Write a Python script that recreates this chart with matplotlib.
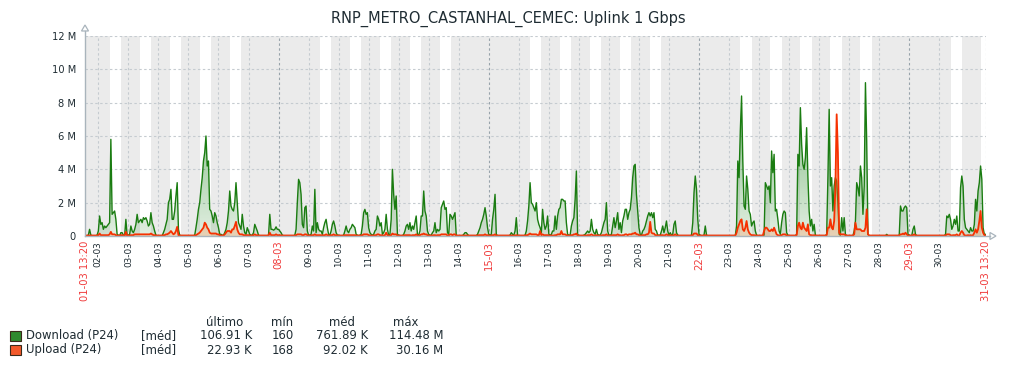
import numpy as np
import matplotlib.pyplot as plt
from matplotlib.patches import Polygon, Rectangle
from matplotlib.lines import Line2D
from matplotlib.colors import to_rgb

TITLE = "RNP_METRO_CASTANHAL_CEMEC: Uplink 1 Gbps"

# hours counted from 01-03 00:00, graph spans 30 days from 01-03 13:20
START_H = 13 + 20 / 60
END_H = START_H + 30 * 24
FIRST_SAMPLE_H = 13

DAYS = list(range(2, 31))
RED_DAYS = [8, 15, 22, 29]
Y_TICKS = [0, 2, 4, 6, 8, 10, 12]
Y_LABELS = ["0", "2 M", "4 M", "6 M", "8 M", "10 M", "12 M"]

LEGEND_HEAD = ["último", "mín", "méd", "máx"]
LEGEND_NAMES = ["Download (P24)", "Upload (P24)"]
LEGEND_FUNC = "[méd]"
LEGEND_VALUES = [["106.91 K", "160", "761.89 K", "114.48 M"],
                 ["22.93 K", "168", "92.02 K", "30.16 M"]]

# hourly averages in Mbps, one row per day (day 1 from 13h, day 31 up to 13h)
download_m = [
    [0.02, 0.02, 0.02, 0.05, 0.4, 0.05, 0.02, 0.02, 0.02, 0.02, 0.05],
    [0.3, 1.2, 0.7, 0.8, 0.4, 0.6, 0.5, 0.6, 0.7, 0.8, 5.8, 1.3, 1.4, 1.5, 1.0, 0.1, 0.05, 0.02, 0.2, 0.2, 0.05, 0.02, 1.0, 0.05],
    [0.05, 0.1, 0.6, 0.3, 0.2, 0.4, 0.7, 1.3, 0.8, 0.9, 1.0, 0.8, 1.1, 1.0, 1.1, 0.9, 0.6, 0.7, 1.4, 0.8, 0.6, 0.3, 0.05, 0.02],
    [0.02, 0.02, 0.02, 0.02, 0.2, 0.4, 0.7, 1.0, 2.0, 2.2, 2.8, 1.0, 1.0, 1.5, 2.4, 3.2, 0.4, 0.05, 0.02, 0.02, 0.02, 0.02, 0.02, 0.02],
    [0.02, 0.02, 0.02, 0.02, 0.02, 0.05, 0.5, 1.0, 1.6, 2.0, 2.8, 3.5, 4.5, 5.0, 6.0, 4.2, 4.5, 1.6, 1.5, 1.2, 0.8, 1.4, 1.2, 0.8],
    [0.5, 0.1, 0.1, 0.05, 0.05, 0.2, 0.4, 0.8, 1.5, 2.7, 1.8, 1.6, 1.5, 2.0, 3.2, 2.0, 0.8, 0.6, 0.4, 1.3, 0.6, 0.2, 0.1, 0.5],
    [0.3, 0.1, 0.05, 0.05, 0.2, 0.7, 0.5, 0.3, 0.05, 0.02, 0.02, 0.02, 0.02, 0.02, 0.02, 0.02, 0.05, 1.3, 0.4, 0.4, 0.35, 0.4, 0.55, 0.4],
    [0.4, 0.3, 0.2, 0.05, 0.02, 0.02, 0.02, 0.02, 0.02, 0.02, 0.02, 0.02, 0.02, 0.05, 0.4, 2.0, 3.4, 3.2, 2.5, 0.7, 0.5, 1.7, 1.8, 0.3],
    [0.05, 0.05, 0.1, 0.6, 0.3, 2.8, 0.2, 0.8, 0.4, 0.3, 0.3, 0.1, 0.5, 0.8, 1.0, 0.5, 0.1, 0.05, 0.3, 0.7, 0.9, 0.6, 0.2, 0.05],
    [0.05, 0.02, 0.02, 0.02, 0.05, 0.3, 0.6, 0.3, 0.2, 0.4, 0.5, 0.7, 0.6, 0.5, 0.1, 0.05, 0.02, 0.05, 0.1, 0.6, 1.4, 1.6, 1.3, 1.4],
    [0.5, 0.2, 0.1, 0.05, 0.1, 0.3, 0.4, 1.2, 1.0, 0.6, 0.8, 0.1, 0.2, 0.4, 1.3, 0.4, 0.05, 0.1, 1.0, 4.0, 2.5, 1.6, 2.4, 0.1],
    [0.05, 0.02, 0.02, 0.02, 0.1, 0.3, 0.6, 0.7, 0.4, 0.8, 0.3, 0.6, 0.4, 0.8, 1.2, 0.1, 0.05, 0.3, 1.2, 1.2, 2.7, 1.5, 1.2, 0.3],
    [0.1, 0.05, 0.05, 0.2, 0.3, 0.8, 0.2, 0.4, 0.3, 0.4, 1.7, 1.9, 2.1, 1.6, 1.7, 0.2, 0.1, 1.3, 1.2, 1.0, 1.2, 1.4, 0.05, 0.02],
    [0.02, 0.02, 0.02, 0.02, 0.1, 0.2, 0.2, 0.1, 0.02, 0.02, 0.02, 0.02, 0.02, 0.02, 0.02, 0.1, 0.3, 0.5, 0.8, 1.0, 1.3, 1.7, 1.2, 0.5],
    [0.1, 0.05, 0.1, 1.0, 1.6, 2.5, 0.1, 0.02, 0.02, 0.02, 0.02, 0.02, 0.02, 0.02, 0.02, 0.02, 0.02, 0.05, 0.2, 0.1, 0.05, 0.3, 1.1, 0.05],
    [0.02, 0.02, 0.02, 0.02, 0.02, 0.05, 0.3, 0.9, 1.8, 3.2, 2.0, 1.9, 1.7, 1.5, 2.0, 1.0, 0.7, 0.5, 0.2, 1.6, 0.8, 0.4, 0.6, 1.2],
    [0.1, 0.05, 0.1, 0.3, 0.3, 1.2, 0.4, 1.2, 1.6, 1.7, 2.2, 2.2, 2.1, 2.1, 0.8, 0.1, 0.05, 0.05, 0.6, 0.9, 1.1, 2.2, 3.9, 0.1],
    [0.02, 0.02, 0.02, 0.02, 0.05, 0.1, 0.2, 0.3, 0.2, 0.3, 1.0, 0.4, 0.2, 0.1, 0.4, 0.1, 0.05, 0.05, 0.2, 0.5, 0.8, 1.0, 2.0, 0.3],
    [0.05, 0.05, 0.1, 0.6, 1.1, 0.5, 0.9, 1.4, 0.4, 0.8, 0.2, 0.9, 1.2, 1.6, 1.6, 1.0, 1.4, 1.6, 2.3, 3.5, 4.2, 4.3, 2.5, 1.5],
    [0.5, 0.1, 0.05, 0.3, 0.4, 0.6, 0.9, 1.2, 1.4, 1.2, 1.4, 1.1, 1.4, 0.4, 0.3, 0.05, 0.05, 0.05, 0.3, 0.6, 0.2, 0.5, 0.9, 0.3],
    [0.05, 0.2, 0.05, 0.1, 0.7, 0.9, 0.2, 0.05, 0.02, 0.02, 0.02, 0.02, 0.02, 0.02, 0.02, 0.02, 0.02, 0.02, 0.05, 0.8, 2.6, 3.6, 2.8, 1.0],
    [0.1, 0.05, 0.02, 0.02, 0.05, 0.6, 0.05, 0.02, 0.02, 0.02, 0.02, 0.02, 0.02, 0.02, 0.02, 0.02, 0.02, 0.02, 0.02, 0.02, 0.02, 0.02, 0.02, 0.02],
    [0.02, 0.02, 0.02, 0.02, 0.02, 0.02, 0.6, 4.5, 3.5, 6.3, 8.4, 4.5, 1.8, 1.6, 3.6, 2.8, 1.5, 1.3, 0.6, 0.8, 0.9, 0.3, 0.05, 0.02],
    [0.02, 0.02, 0.02, 0.02, 0.05, 3.2, 3.0, 2.8, 3.0, 2.0, 5.1, 3.8, 4.9, 1.5, 1.6, 1.0, 0.3, 0.1, 0.8, 1.3, 1.5, 1.4, 0.2, 0.05],
    [0.02, 0.02, 0.02, 0.02, 0.02, 0.02, 0.1, 4.9, 4.2, 7.7, 5.5, 4.3, 4.0, 4.7, 6.5, 3.6, 1.5, 0.6, 1.0, 0.3, 0.7, 0.05, 0.02, 0.02],
    [0.02, 0.02, 0.02, 0.02, 0.02, 0.02, 0.1, 3.5, 7.6, 3.0, 3.5, 1.5, 3.0, 3.5, 3.3, 2.0, 0.1, 0.05, 1.1, 0.3, 1.1, 0.1, 0.02, 0.02],
    [0.02, 0.02, 0.02, 0.02, 0.3, 0.9, 3.2, 2.9, 2.4, 4.2, 3.5, 1.3, 3.0, 9.2, 5.7, 0.1, 0.02, 0.02, 0.02, 0.02, 0.02, 0.02, 0.02, 0.02],
    [0.02, 0.02, 0.02, 0.02, 0.02, 0.02, 0.1, 0.02, 0.02, 0.02, 0.02, 0.02, 0.02, 0.02, 0.02, 0.02, 0.05, 1.8, 1.5, 1.5, 1.7, 1.8, 1.7, 0.1],
    [0.05, 0.02, 0.02, 0.4, 0.6, 0.1, 0.02, 0.02, 0.02, 0.02, 0.02, 0.02, 0.02, 0.02, 0.02, 0.02, 0.02, 0.02, 0.02, 0.02, 0.02, 0.02, 0.02, 0.02],
    [0.02, 0.02, 0.02, 0.02, 0.02, 0.1, 1.2, 1.1, 1.3, 1.0, 0.4, 0.6, 1.0, 0.7, 1.2, 0.3, 0.3, 2.9, 3.6, 3.0, 1.0, 0.5, 0.4, 0.3],
    [0.2, 0.5, 0.3, 0.3, 0.7, 2.2, 1.5, 2.7, 3.2, 4.2, 3.4, 0.5, 0.1, 0.1],
]

upload_m = [
    [0.03, 0.03, 0.03, 0.03, 0.03, 0.03, 0.03, 0.03, 0.03, 0.03, 0.03],
    [0.05, 0.15, 0.05, 0.05, 0.05, 0.05, 0.05, 0.05, 0.05, 0.1, 0.25, 0.1, 0.1, 0.1, 0.05, 0.03, 0.03, 0.03, 0.05, 0.05, 0.03, 0.03, 0.25, 0.03],
    [0.03, 0.03, 0.05, 0.05, 0.05, 0.1, 0.1, 0.1, 0.1, 0.1, 0.1, 0.1, 0.1, 0.1, 0.1, 0.1, 0.1, 0.1, 0.15, 0.1, 0.05, 0.05, 0.03, 0.03],
    [0.03, 0.03, 0.03, 0.03, 0.05, 0.05, 0.1, 0.1, 0.15, 0.2, 0.3, 0.2, 0.1, 0.15, 0.3, 0.55, 0.05, 0.03, 0.03, 0.03, 0.03, 0.03, 0.03, 0.03],
    [0.03, 0.03, 0.03, 0.03, 0.03, 0.03, 0.05, 0.1, 0.15, 0.2, 0.3, 0.4, 0.5, 0.8, 0.7, 0.5, 0.4, 0.2, 0.15, 0.15, 0.15, 0.15, 0.15, 0.1],
    [0.1, 0.05, 0.03, 0.03, 0.03, 0.1, 0.2, 0.3, 0.3, 0.3, 0.2, 0.4, 0.4, 0.6, 0.85, 0.4, 0.2, 0.1, 0.1, 0.1, 0.05, 0.05, 0.03, 0.05],
    [0.05, 0.03, 0.03, 0.03, 0.05, 0.1, 0.05, 0.05, 0.03, 0.03, 0.03, 0.03, 0.03, 0.03, 0.03, 0.03, 0.03, 0.2, 0.05, 0.05, 0.05, 0.05, 0.1, 0.05],
    [0.05, 0.05, 0.03, 0.03, 0.03, 0.03, 0.03, 0.03, 0.03, 0.03, 0.03, 0.03, 0.03, 0.03, 0.05, 0.1, 0.1, 0.1, 0.1, 0.05, 0.05, 0.1, 0.1, 0.05],
    [0.03, 0.03, 0.03, 0.05, 0.05, 0.1, 0.05, 0.05, 0.05, 0.05, 0.05, 0.03, 0.05, 0.05, 0.1, 0.05, 0.03, 0.03, 0.05, 0.05, 0.1, 0.05, 0.05, 0.03],
    [0.03, 0.03, 0.03, 0.03, 0.03, 0.05, 0.05, 0.05, 0.05, 0.05, 0.05, 0.05, 0.05, 0.05, 0.03, 0.03, 0.03, 0.03, 0.03, 0.05, 0.1, 0.1, 0.1, 0.1],
    [0.05, 0.03, 0.03, 0.03, 0.03, 0.05, 0.05, 0.1, 0.1, 0.05, 0.05, 0.03, 0.03, 0.05, 0.2, 0.05, 0.03, 0.03, 0.05, 0.15, 0.1, 0.1, 0.1, 0.03],
    [0.03, 0.03, 0.03, 0.03, 0.03, 0.05, 0.05, 0.05, 0.05, 0.05, 0.03, 0.05, 0.05, 0.05, 0.1, 0.03, 0.03, 0.05, 0.1, 0.1, 0.15, 0.1, 0.1, 0.05],
    [0.03, 0.03, 0.03, 0.03, 0.05, 0.05, 0.03, 0.05, 0.05, 0.05, 0.1, 0.1, 0.1, 0.1, 0.1, 0.03, 0.03, 0.1, 0.1, 0.05, 0.1, 0.1, 0.03, 0.03],
    [0.03, 0.03, 0.03, 0.03, 0.03, 0.03, 0.03, 0.03, 0.03, 0.03, 0.03, 0.03, 0.03, 0.03, 0.03, 0.03, 0.05, 0.05, 0.05, 0.05, 0.05, 0.1, 0.05, 0.05],
    [0.03, 0.03, 0.03, 0.05, 0.05, 0.1, 0.03, 0.03, 0.03, 0.03, 0.03, 0.03, 0.03, 0.03, 0.03, 0.03, 0.03, 0.03, 0.03, 0.03, 0.03, 0.03, 0.05, 0.03],
    [0.03, 0.03, 0.03, 0.03, 0.03, 0.03, 0.05, 0.05, 0.1, 0.15, 0.1, 0.1, 0.1, 0.1, 0.1, 0.05, 0.05, 0.3, 0.05, 0.1, 0.05, 0.05, 0.05, 0.05],
    [0.03, 0.03, 0.03, 0.03, 0.03, 0.05, 0.05, 0.1, 0.1, 0.1, 0.3, 0.1, 0.1, 0.1, 0.05, 0.03, 0.03, 0.03, 0.05, 0.05, 0.1, 0.1, 0.15, 0.03],
    [0.03, 0.03, 0.03, 0.03, 0.03, 0.03, 0.03, 0.05, 0.05, 0.05, 0.1, 0.05, 0.03, 0.03, 0.05, 0.03, 0.03, 0.03, 0.03, 0.05, 0.05, 0.05, 0.1, 0.03],
    [0.03, 0.03, 0.03, 0.05, 0.05, 0.05, 0.05, 0.1, 0.05, 0.05, 0.03, 0.05, 0.05, 0.1, 0.1, 0.05, 0.1, 0.1, 0.1, 0.15, 0.15, 0.2, 0.1, 0.1],
    [0.05, 0.03, 0.03, 0.05, 0.05, 0.05, 0.1, 0.1, 0.2, 0.85, 0.2, 0.15, 0.15, 0.05, 0.05, 0.03, 0.03, 0.03, 0.05, 0.05, 0.03, 0.05, 0.1, 0.05],
    [0.03, 0.05, 0.03, 0.03, 0.05, 0.1, 0.03, 0.03, 0.03, 0.03, 0.03, 0.03, 0.03, 0.03, 0.03, 0.03, 0.03, 0.03, 0.03, 0.05, 0.15, 0.15, 0.15, 0.05],
    [0.03, 0.03, 0.03, 0.03, 0.03, 0.05, 0.03, 0.03, 0.03, 0.03, 0.03, 0.03, 0.03, 0.03, 0.03, 0.03, 0.03, 0.03, 0.03, 0.03, 0.03, 0.03, 0.03, 0.03],
    [0.03, 0.03, 0.03, 0.03, 0.03, 0.03, 0.2, 0.5, 0.7, 0.9, 1.0, 0.4, 0.3, 0.5, 0.9, 0.4, 0.2, 0.1, 0.05, 0.05, 0.05, 0.03, 0.03, 0.03],
    [0.03, 0.03, 0.03, 0.03, 0.3, 0.5, 0.5, 0.4, 0.3, 0.3, 0.4, 0.3, 0.5, 0.3, 0.1, 0.05, 0.03, 0.03, 0.05, 0.1, 0.1, 0.1, 0.03, 0.03],
    [0.03, 0.03, 0.03, 0.03, 0.03, 0.03, 0.05, 0.6, 0.8, 0.5, 0.4, 0.8, 0.5, 0.4, 0.3, 0.7, 0.1, 0.05, 0.05, 0.03, 0.05, 0.03, 0.03, 0.03],
    [0.03, 0.03, 0.03, 0.03, 0.03, 0.03, 0.05, 0.5, 0.5, 1.0, 0.5, 0.4, 0.9, 3.0, 7.3, 5.0, 0.2, 0.1, 0.1, 0.1, 0.1, 0.05, 0.03, 0.03],
    [0.03, 0.03, 0.03, 0.03, 0.1, 0.8, 0.4, 0.4, 0.4, 0.4, 0.3, 0.3, 0.3, 0.5, 1.6, 0.1, 0.03, 0.03, 0.03, 0.03, 0.03, 0.03, 0.03, 0.03],
    [0.03, 0.03, 0.03, 0.03, 0.03, 0.03, 0.03, 0.03, 0.03, 0.03, 0.03, 0.03, 0.03, 0.03, 0.03, 0.03, 0.03, 0.1, 0.1, 0.15, 0.1, 0.2, 0.1, 0.03],
    [0.03, 0.03, 0.03, 0.05, 0.1, 0.03, 0.03, 0.03, 0.03, 0.03, 0.03, 0.03, 0.03, 0.03, 0.03, 0.03, 0.03, 0.03, 0.03, 0.03, 0.03, 0.03, 0.03, 0.03],
    [0.03, 0.03, 0.03, 0.03, 0.03, 0.03, 0.1, 0.1, 0.1, 0.05, 0.03, 0.05, 0.05, 0.05, 0.1, 0.03, 0.03, 0.2, 0.3, 0.2, 0.05, 0.03, 0.03, 0.05],
    [0.03, 0.05, 0.03, 0.05, 0.2, 0.4, 0.2, 0.4, 0.9, 1.5, 0.5, 0.2, 0.05, 0.03],
]

DL_COLOR = "#1A7C11"
UL_COLOR = "#F63100"
TEXT = "#1f2c33"
GRID = "#c5cbd0"
GRID_DARK = "#98a3ab"
AXIS = "#a9b4bc"
OFF_HOURS = "#ebebeb"

W, H = 1016, 368
L, R, T, B = 85, 986, 36, 236


def px(x, y):
    return x / W, 1 - y / H


for rows in (download_m, upload_m):
    for i, r in enumerate(rows):
        n = 11 if i == 0 else (14 if i == len(rows) - 1 else 24)
        assert len(r) == n, (i + 1, len(r))

dl = np.concatenate([np.array(r) for r in download_m])
ul = np.concatenate([np.array(r) for r in upload_m])
hours = FIRST_SAMPLE_H + np.arange(len(dl))

fig = plt.figure(figsize=(W / 100, H / 100), dpi=100)
ax = fig.add_axes([L / W, 1 - B / H, (R - L) / W, (B - T) / H])
ax.set_facecolor(OFF_HOURS)

# working time (Mon-Fri 09-18) is white; 01-03 is a Sunday
for d in range(1, 32):
    if 1 <= (d - 1) % 7 <= 5:
        ax.axvspan((d - 1) * 24 + 9, (d - 1) * 24 + 18, color="white", lw=0, zorder=0)

dash = (0, (2.2, 2.2))
for d in DAYS:
    ax.axvline((d - 1) * 24, color=GRID_DARK if d in RED_DAYS else GRID,
               lw=0.8, ls=dash, zorder=1)
for v in Y_TICKS[1:]:
    ax.axhline(v, color=GRID, lw=0.8, ls=dash, zorder=1)
ax.axvline(END_H, color=GRID, lw=0.8, ls=dash, zorder=1)


def gradient_area(x, y, color, a0, a1, z):
    verts = np.column_stack([np.r_[x[0], x, x[-1]], np.r_[0, y, 0]])
    poly = Polygon(verts, closed=True, fc="none", ec="none")
    ax.add_patch(poly)
    grad = np.zeros((256, 1, 4))
    grad[..., :3] = to_rgb(color)
    grad[:, 0, 3] = np.linspace(a0, a1, 256)
    im = ax.imshow(grad, aspect="auto", origin="lower", interpolation="bilinear",
                   extent=[START_H, END_H, 0, 12], zorder=z)
    im.set_clip_path(poly)


gradient_area(hours, dl, "#2a8a2a", 0.14, 0.8, 2)
ax.plot(hours, dl, color=DL_COLOR, lw=1.0, zorder=3)
gradient_area(hours, ul, "#ff6a1a", 0.22, 0.75, 4)
ax.plot(hours, ul, color=UL_COLOR, lw=1.3, zorder=5)

ax.set_xlim(START_H, END_H)
ax.set_ylim(0, 12)
for s in ax.spines.values():
    s.set_visible(False)

ax.set_yticks(Y_TICKS)
ax.set_yticklabels(Y_LABELS)
ax.tick_params(axis="y", length=0, pad=6.5, labelsize=7.1, labelcolor=TEXT)

xt = [START_H] + [(d - 1) * 24 for d in DAYS] + [END_H]
xl = ["01-03 13:20"] + [f"{d:02d}-03" for d in DAYS] + ["31-03 13:20"]
red = [True] + [d in RED_DAYS for d in DAYS] + [True]
ax.set_xticks(xt)
ax.set_xticklabels(xl, rotation=90)
ax.tick_params(axis="x", length=0, pad=3.5)
for lbl, r in zip(ax.get_xticklabels(), red):
    lbl.set_color("#f03c3c" if r else TEXT)
    lbl.set_fontsize(7.2 if r else 6.4)

# axes with arrow heads
fig.add_artist(Line2D([px(L, 0)[0]] * 2, [px(0, B)[1], px(0, 31)[1]], color=AXIS, lw=1.0))
fig.add_artist(Line2D([px(L, 0)[0], px(990, 0)[0]], [px(0, B)[1]] * 2, color=AXIS, lw=1.0))
fig.add_artist(Polygon([px(81.5, 31), px(88.5, 31), px(85, 25)], closed=True,
                       fc="white", ec=AXIS, lw=0.9, transform=fig.transFigure))
fig.add_artist(Polygon([px(990, 232.5), px(990, 239.5), px(996, 236)], closed=True,
                       fc="white", ec=AXIS, lw=0.9, transform=fig.transFigure))

fig.text(*px(508, 19), TITLE, ha="center", va="center", fontsize=10.5, color=TEXT)

# legend table
fs = 8.4
for name, x in zip(LEGEND_HEAD, [243, 293, 355, 418]):
    fig.text(*px(x, 322), name, ha="right", va="center", fontsize=fs, color=TEXT)
for i, (name, color, vals) in enumerate(zip(LEGEND_NAMES, [DL_COLOR, UL_COLOR], LEGEND_VALUES)):
    y = 335.5 + i * 14.5
    fig.add_artist(Rectangle(px(10, y + 5), 10.5 / W, 10 / H, transform=fig.transFigure,
                             fc="#2f8a2f" if i == 0 else "#f2592a", ec="#3a2a1a", lw=0.8))
    fig.text(*px(26.5, y), name, ha="left", va="center", fontsize=fs, color=TEXT)
    fig.text(*px(141.5, y), LEGEND_FUNC, ha="left", va="center", fontsize=fs, color=TEXT)
    for v, x in zip(vals, [252, 294, 368, 443.5]):
        fig.text(*px(x, y), v, ha="right", va="center", fontsize=fs, color=TEXT)

fig.savefig("out.png", dpi=100)
